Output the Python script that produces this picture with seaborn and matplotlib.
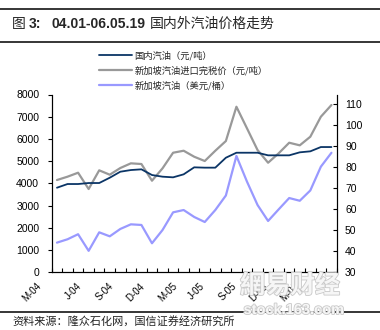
import matplotlib
matplotlib.use("Agg")
import matplotlib.pyplot as plt
import matplotlib.patheffects as pe
import matplotlib.transforms as mtransforms
import pandas as pd
import seaborn as sns

# Monthly gasoline prices, 2004-2006
months = list(range(27))
domestic_cny_t = [3806, 3972, 3972, 4017, 4017, 4256, 4526, 4601, 4633, 4377,
                  4302, 4273, 4408, 4723, 4708, 4708, 5155, 5380, 5380, 5380,
                  5263, 5263, 5263, 5398, 5443, 5636, 5636]
sg_import_cny_t = [4152, 4302, 4481, 3747, 4588, 4391, 4692, 4903, 4872, 4121,
                   4678, 5380, 5470, 5200, 5007, 5470, 5906, 7449, 6478, 5502,
                   4930, 5353, 5830, 5713, 6100, 7000, 7526]
sg_usd_bbl = [44.1, 45.7, 48.1, 40.2, 49.0, 47.1, 50.6, 52.8, 52.5, 43.8,
              50.1, 58.5, 59.6, 56.3, 53.9, 59.6, 66.5, 85.3, 73.1, 62.0,
              54.4, 59.9, 65.3, 64.0, 68.9, 80.2, 86.8]

series_labels = ["国内汽油（元/吨）", "新加坡汽油进口完税价（元/吨）", "新加坡汽油（美元/桶）"]
x_labels = ["M-04", "J-04", "S-04", "D-04", "M-05", "J-05", "S-05", "D-05", "M-06"]
x_label_pos = [-1.3, 2.5, 5.5, 8.5, 11.6, 14.2, 17.2, 20.1, 23.1]
left_ticks = list(range(0, 8001, 1000))
right_ticks = list(range(30, 111, 10))

sns.set_theme(style="ticks")
plt.rcParams["font.family"] = ["Liberation Sans", "Noto Sans CJK SC", "DejaVu Sans"]
CJK = ["Noto Sans CJK SC", "DejaVu Sans"]

W, H = 380, 330
fig = plt.figure(figsize=(W / 100, H / 100), dpi=100)
fig.patch.set_facecolor("white")

x0, x1, y_bot, y_top = 51.7, 336.7, 272.3, 94.5
ax = fig.add_axes([x0 / W, 1 - y_bot / H, (x1 - x0) / W, (y_bot - y_top) / H])
ax2 = ax.twinx()

df = pd.DataFrame({"month": months, "domestic": domestic_cny_t,
                   "sg_import": sg_import_cny_t, "sg_usd": sg_usd_bbl})

sns.lineplot(data=df, x="month", y="sg_import", ax=ax, color="#999999",
             linewidth=1.6, legend=False)
sns.lineplot(data=df, x="month", y="domestic", ax=ax, color="#0b3566",
             linewidth=1.3, legend=False)
sns.lineplot(data=df, x="month", y="sg_usd", ax=ax2, color="#9999ff",
             linewidth=1.6, legend=False)

ax.set_xlim(-0.5, 26.5)
ax.set_ylim(0, 8000)
ax2.set_ylim(30, 30 + (y_bot - y_top) / 2.104)
for a in (ax, ax2):
    a.set_xlabel("")
    a.set_ylabel("")
    a.spines["top"].set_visible(False)
    for s in a.spines.values():
        s.set_color("black")
        s.set_linewidth(0.8)

ax.set_yticks(left_ticks)
ax.set_yticklabels([str(v) for v in left_ticks])
ax.tick_params(axis="y", direction="out", length=3, width=0.8, colors="black",
               labelsize=7.5, pad=6)
ax2.set_yticks(right_ticks)
ax2.set_yticklabels([str(v) for v in right_ticks])
ax2.tick_params(axis="y", direction="in", length=3, width=0.8, colors="black",
                labelsize=7.5, pad=6)

# category boundary ticks on the x axis, labels placed every quarter
ax.set_xticks([m - 0.5 for m in months] + [26.5])
ax.set_xticklabels([])
ax.tick_params(axis="x", direction="in", length=3, width=0.8, colors="black")
trans = mtransforms.blended_transform_factory(ax.transData, ax.transAxes)
ylab = (y_bot - 281) / (y_bot - y_top)
for pos, lab in zip(x_label_pos, x_labels):
    ax.text(pos, ylab, lab, transform=trans, rotation=45, ha="right", va="top",
            fontsize=7, color="black", clip_on=False)

# legend
handles = [ax.get_lines()[1], ax.get_lines()[0], ax2.get_lines()[0]]
fig.legend(handles, series_labels, loc="upper left",
           bbox_to_anchor=(99 / W, 1 - 51 / H), bbox_transform=fig.transFigure,
           frameon=False, borderpad=0, borderaxespad=0, handlelength=3.5,
           handletextpad=0.3, labelspacing=0.6,
           prop={"family": CJK, "size": 6.7})

# title block and rules
def px(x, y):
    return x / W, 1 - y / H

for yy in (9.3, 41.5, 311.7):
    fig.add_artist(plt.Line2D([0, 1], [1 - yy / H] * 2, color="black", lw=1.1,
                              transform=fig.transFigure))

fig.text(*px(12, 24), "图", family=CJK, fontsize=10, va="center", ha="left")
fig.text(*px(29, 24), "3:", fontsize=10, fontweight="bold", va="center", ha="left")
fig.text(*px(52, 24), "04.01-06.05.19", fontsize=10, fontweight="bold",
         va="center", ha="left")
fig.text(*px(150, 24), "国内外汽油价格走势", family=CJK, fontsize=10,
         va="center", ha="left")

fig.text(*px(12, 321), "资料来源：隆众石化网，国信证券经济研究所", family=CJK,
         fontsize=8, va="center", ha="left", color="#222222")

# faint site watermark
outline = [pe.Stroke(linewidth=1.2, foreground="#c8c8c8"), pe.Normal()]
t1 = fig.text(*px(290, 286), "網易财经", family=CJK, fontsize=18,
              fontweight="bold", va="center", ha="center", color="#f6f6f6")
t1.set_path_effects(outline)
t2 = fig.text(*px(294, 310), "stock.163.com", fontsize=10.5, fontweight="bold",
              va="center", ha="center", color="#f6f6f6")
t2.set_path_effects(outline)

fig.savefig("out.png", dpi=100, facecolor="white")
